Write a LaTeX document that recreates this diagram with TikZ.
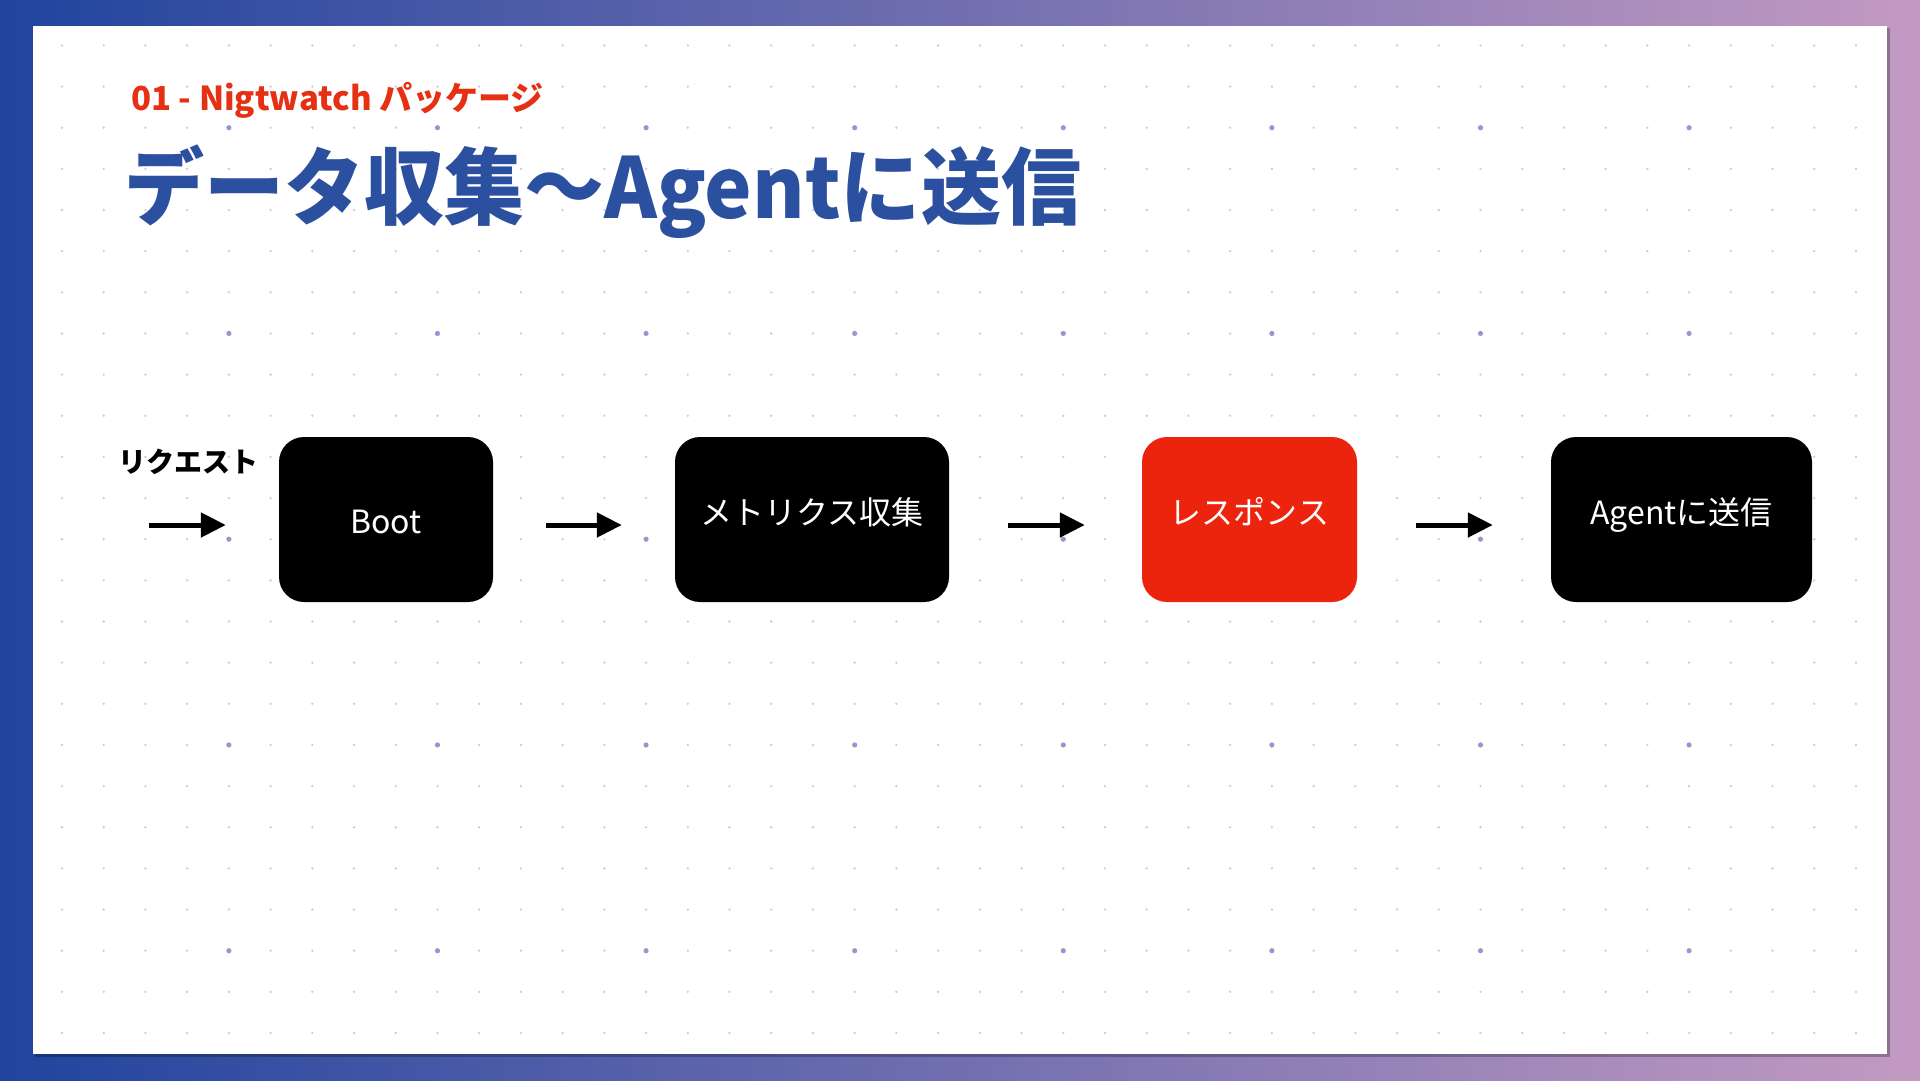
\documentclass[tikz,border=0pt]{standalone}
\usepackage{fontspec}
\setmainfont{Noto Sans CJK JP}
\usetikzlibrary{arrows.meta}
\definecolor{bgL}{RGB}{32,68,158}
\definecolor{bgM}{RGB}{128,118,182}
\definecolor{bgR}{RGB}{195,154,194}
\definecolor{dotc}{RGB}{205,205,218}
\definecolor{bigdotc}{RGB}{150,150,212}
\definecolor{titleblue}{RGB}{44,80,160}
\definecolor{subred}{RGB}{230,48,20}
\definecolor{boxred}{RGB}{236,36,14}
\tikzset{
  flowbox/.style={rounded corners=25pt, inner sep=0pt, text=white,
    font=\fontsize{32pt}{36pt}\selectfont, text depth=0pt},
  jpbox/.style={flowbox, text height=9pt},
  enbox/.style={flowbox, text height=28pt},
  arr/.style={line width=5pt, -{Triangle[length=25pt,width=24pt]}},
}
\begin{document}
\begin{tikzpicture}[x=1pt,y=-1pt]
\useasboundingbox (0,0) rectangle (1920,1080);
\shade[left color=bgL, middle color=bgM, right color=bgR] (0,0) rectangle (1920,1080);
% panel with shadow
\fill[black, opacity=0.25] (35,28) rectangle (1890,1057);
\fill[white] (33,26) rectangle (1887,1054);
% dot grid
\foreach \i in {0,...,43}{
  \foreach \j in {0,...,24}{
    \fill[dotc] ({62+41.72*\i},{45.4+41.15*\j}) circle (1.3);
  }
}
\foreach \i in {4,9,...,39}{
  \foreach \j in {2,7,12,17,22}{
    \fill[bigdotc] ({62+41.72*\i},{45.4+41.15*\j}) circle (2.6);
  }
}
% headings
\node[anchor=base west, inner sep=0pt, text=subred,
  font=\bfseries\fontsize{33pt}{38pt}\selectfont] (sub) at (131,110)
  {01 - Nigtwatch パッケージ};
\node[anchor=base west, inner sep=0pt, text=titleblue,
  font=\bfseries\fontsize{84pt}{90pt}\selectfont] (title) at (124,218)
  {\scalebox{0.953}[1]{データ収集～Agentに送信}};
% request label
\node[inner sep=0pt, font=\bfseries\fontsize{28pt}{32pt}\selectfont] (req) at (188.5,462) {リクエスト};
% boxes
\node[enbox, fill=black, minimum width=214pt, minimum height=165pt] (boot) at (386,519.5) {Boot};
\node[jpbox, fill=black, minimum width=274pt, minimum height=165pt] (met) at (812,519.5) {メトリクス収集};
\node[jpbox, fill=boxred, minimum width=215pt, minimum height=165pt] (res) at (1249.5,519.5) {レスポンス};
\node[jpbox, fill=black, minimum width=261pt, minimum height=165pt] (agt) at (1681.5,519.5) {Agentに送信};
% arrows
\coordinate (reqin) at (149,525);
\draw[arr, shorten >=53pt] (reqin) -- (boot.west |- reqin);
\draw[arr, shorten <=53pt, shorten >=53pt] (boot.east |- reqin) -- (met.west |- reqin);
\draw[arr, shorten <=59pt, shorten >=57pt] (met.east |- reqin) -- (res.west |- reqin);
\draw[arr, shorten <=59pt, shorten >=58pt] (res.east |- reqin) -- (agt.west |- reqin);
\end{tikzpicture}
\end{document}
